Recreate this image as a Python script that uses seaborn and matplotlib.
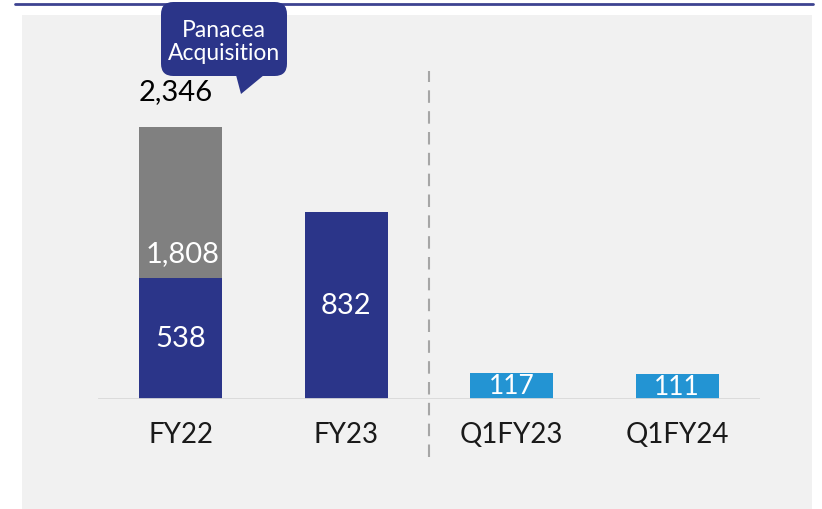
"""
Revenue bar chart with Panacea acquisition callout.
"""

import numpy as np
import pandas as pd
import matplotlib
matplotlib.use("Agg")
import matplotlib.pyplot as plt
import seaborn as sns
from matplotlib.patches import Rectangle, FancyBboxPatch, Polygon
from matplotlib.lines import Line2D

periods = ["FY22", "FY23", "Q1FY23", "Q1FY24"]
base_values = [538, 832, 117, 111]
acquisition_values = [1808, 0, 0, 0]
callout_text = "Panacea\nAcquisition"

DARK_BLUE = "#2b3589"
LIGHT_BLUE = "#2394d3"
GREY = "#808080"
PANEL = "#f1f1f1"

# the tall acquisition segment is shown compressed, so squeeze values above a break
BREAK = 900
SQUEEZE = 0.2137


def fwd(y):
    y = np.asarray(y, dtype=float)
    return np.where(y <= BREAK, y, BREAK + (y - BREAK) * SQUEEZE)


def inv(y):
    y = np.asarray(y, dtype=float)
    return np.where(y <= BREAK, y, BREAK + (y - BREAK) / SQUEEZE)


sns.set_theme(style="white")
plt.rcParams["font.family"] = ["Lato", "DejaVu Sans"]

W, H = 822, 510
fig = plt.figure(figsize=(W / 100, H / 100), dpi=100)
fig.patch.set_facecolor("white")

# grey panel and top rule
fig.patches.append(Rectangle((22 / W, 0), (812 - 22) / W, (H - 16) / H,
                             transform=fig.transFigure, facecolor=PANEL,
                             edgecolor="none", zorder=-1))
fig.lines.append(Line2D([15 / W, 813 / W], [1 - 5 / H, 1 - 5 / H],
                        transform=fig.transFigure, color="#3d4391", lw=2))

ax = fig.add_axes([98 / W, (H - 400) / H, 662 / W, 340 / H])
ax.set_facecolor("none")

df = pd.DataFrame({
    "period": periods,
    "base": base_values,
    "total": np.array(base_values) + np.array(acquisition_values),
})
base_colors = {p: (LIGHT_BLUE if p.startswith("Q") else DARK_BLUE) for p in periods}

sns.barplot(data=df, x="period", y="total", order=periods, color=GREY,
            width=0.5, saturation=1, linewidth=0, edgecolor="none", ax=ax)
sns.barplot(data=df, x="period", y="base", order=periods, hue="period",
            palette=base_colors, width=0.5, saturation=1, legend=False,
            linewidth=0, edgecolor="none", ax=ax)

ax.set_yscale("function", functions=(fwd, inv))
ax.set_ylim(0, float(inv(340 / 0.225)))
ax.set_xlim(-0.5, 3.5)

ax.axhline(0, color="#d9d9d9", lw=2, zorder=3)
ax.axvline(1.5, ymin=-0.17, ymax=0.965, color="#a6a6a6", lw=1.5,
           dashes=(6, 4), clip_on=False)

# value labels, centred in each segment
for i, row in df.iterrows():
    size = 21 if row["base"] > 300 else 19
    mid = float(inv(fwd(row["base"]) / 2))
    ax.text(i, mid, f"{row['base']:,}", ha="center", va="center",
            color="white", fontsize=size)
    if acquisition_values[i] > 0:
        ax.annotate(f"{acquisition_values[i]:,}", (i, row["base"]),
                    xytext=(1, 18), textcoords="offset points",
                    ha="center", va="center", color="white", fontsize=21)
        ax.annotate(f"{row['total']:,}", (i, row["total"]),
                    xytext=(-4, 26), textcoords="offset points",
                    ha="center", va="center", color="black", fontsize=21)

ax.set_xlabel("")
ax.set_ylabel("")
ax.set_yticks([])
ax.tick_params(axis="x", length=0, pad=16, labelsize=20, labelcolor="#1a1a1a")
sns.despine(ax=ax, left=True, bottom=True)

# callout box
fig.patches.append(FancyBboxPatch((161 / W, 1 - 77 / H), (287 - 161) / W, 74 / H,
                                  boxstyle="round,pad=0,rounding_size=0.015",
                                  transform=fig.transFigure, facecolor=DARK_BLUE,
                                  edgecolor="none", zorder=5,
                                  mutation_aspect=W / H))
fig.patches.append(Polygon([(236 / W, 1 - 76 / H), (264 / W, 1 - 76 / H),
                            (241 / W, 1 - 95 / H)], closed=True,
                           transform=fig.transFigure, facecolor=DARK_BLUE,
                           edgecolor="none", zorder=5))
fig.text(224 / W, 1 - 42 / H, callout_text, ha="center", va="center",
         color="white", fontsize=16.5, linespacing=1.1, zorder=6)

plt.savefig("out.png", dpi=100)
plt.close()
